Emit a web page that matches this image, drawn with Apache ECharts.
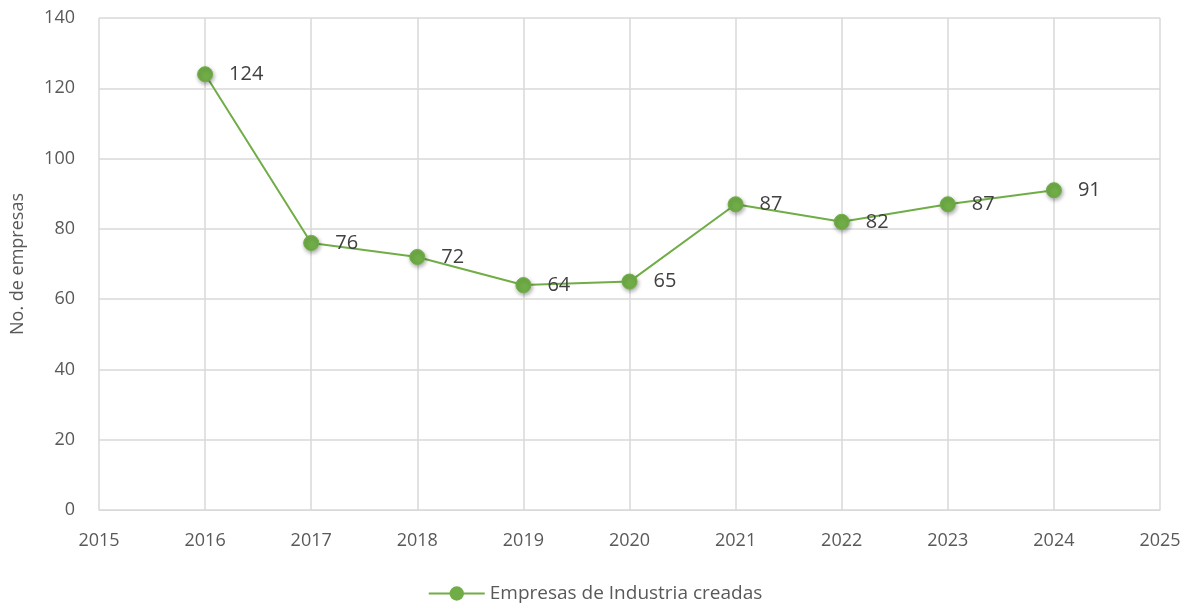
<!DOCTYPE html>
<html>
    <head>
        <meta charset="UTF-8">
        <title>Empresas de Industria creadas</title>
        <script src="https://cdn.jsdelivr.net/npm/echarts@6/dist/echarts.min.js"></script>
        <style>
            body,html{margin:0;padding:0;width:100%;height:100%;background:#fff;}
            #lineEmpresas{width:1190px;height:609px;}
        </style>
    </head>
    <body>
        <div id="lineEmpresas"></div>
        <script type="text/javascript">
          var years = [2016, 2017, 2018, 2019, 2020, 2021, 2022, 2023, 2024];
          var empresas = [124, 76, 72, 64, 65, 87, 82, 87, 91];
          var serieName = 'Empresas de Industria creadas';

          var puntos = [];
          for (var i = 0; i < years.length; i++) {
              puntos.push([years[i], empresas[i]]);
          }

          var chart = echarts.init(document.getElementById("lineEmpresas"));
          var fuente = '"Open Sans", "Noto Sans", sans-serif';
          var option = {
              animation: false,
              textStyle: {fontFamily: fuente},
              grid: {left: 99, right: 30, top: 18, bottom: 99},
              legend: {
                  bottom: 1,
                  left: 'center',
                  data: [serieName],
                  itemWidth: 56,
                  itemHeight: 18,
                  itemGap: 6,
                  textStyle: {fontSize: 19, color: '#595959', fontFamily: fuente}
              },
              xAxis: {
                  type: 'value',
                  min: 2015,
                  max: 2025,
                  interval: 1,
                  axisLine: {show: true, lineStyle: {color: '#d9d9d9', width: 1}},
                  axisTick: {show: false},
                  axisLabel: {
                      fontSize: 18, color: '#595959', margin: 22, fontFamily: fuente,
                      formatter: function (v) { return String(v); }
                  },
                  splitLine: {show: true, lineStyle: {color: '#d9d9d9', width: 1.5}}
              },
              yAxis: {
                  type: 'value',
                  min: 0,
                  max: 140,
                  interval: 20,
                  name: 'No. de empresas',
                  nameLocation: 'middle',
                  nameGap: 72,
                  nameTextStyle: {fontSize: 18, color: '#595959', fontFamily: fuente},
                  axisLine: {show: false},
                  axisTick: {show: false},
                  axisLabel: {fontSize: 18, color: '#595959', margin: 24, fontFamily: fuente},
                  splitLine: {show: true, lineStyle: {color: '#d9d9d9', width: 1.5}}
              },
              series: [
                  {
                      name: serieName,
                      type: 'line',
                      data: puntos,
                      symbol: 'circle',
                      symbolSize: 15,
                      lineStyle: {color: '#70AD47', width: 2},
                      itemStyle: {
                          color: '#70AD47',
                          borderColor: '#70AD47',
                          shadowBlur: 4,
                          shadowOffsetX: 1,
                          shadowOffsetY: 2,
                          shadowColor: 'rgba(0,0,0,0.35)'
                      },
                      label: {
                          show: true,
                          position: 'right',
                          distance: 16,
                          fontSize: 20,
                          color: '#404040',
                          fontFamily: fuente
                      }
                  }
              ],
              color: ['#70AD47']
          };
          chart.setOption(option);
        </script>
    </body>
</html>
